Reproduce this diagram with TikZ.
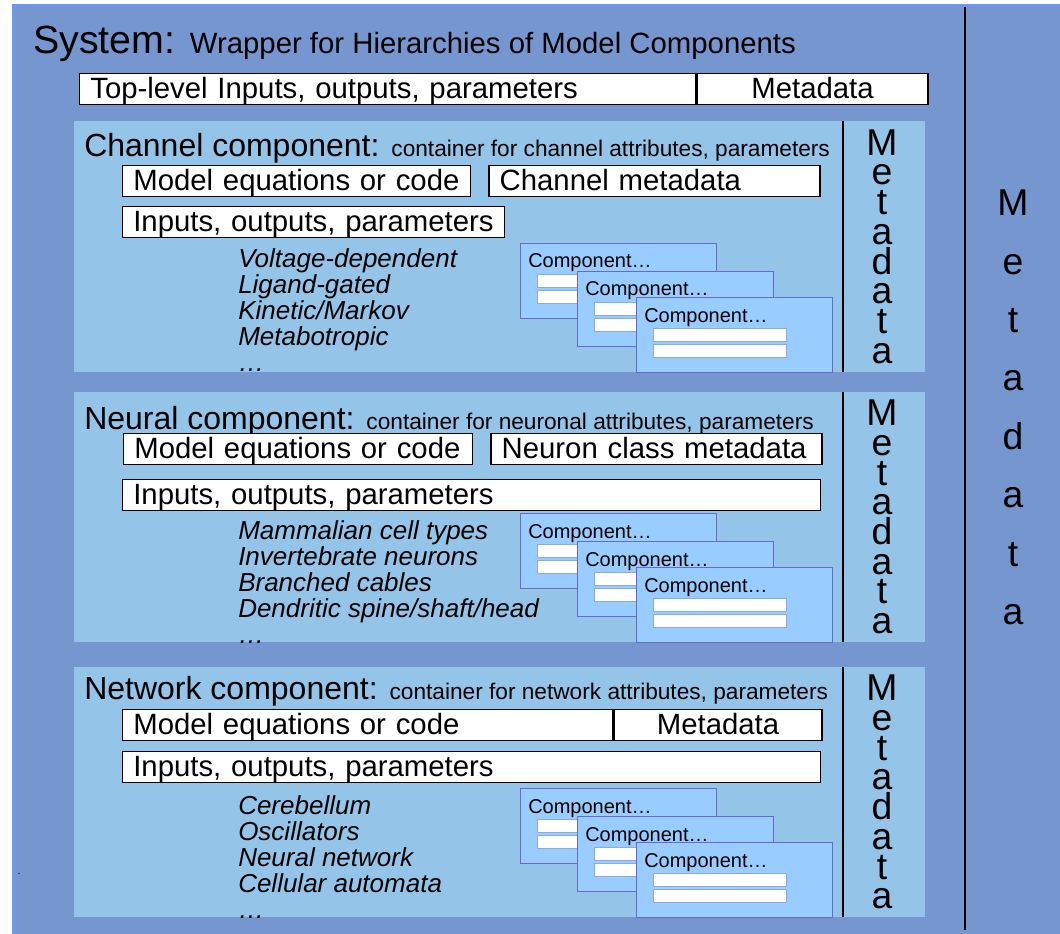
\documentclass[tikz,border=0pt]{standalone}
\usepackage{fontspec}
\setmainfont{Liberation Sans}
\definecolor{sysblue}{RGB}{117,150,206}
\definecolor{sysedge}{RGB}{102,153,255}
\definecolor{panelblue}{RGB}{148,196,232}
\definecolor{cardblue}{RGB}{153,204,255}
\definecolor{cardedge}{RGB}{104,104,210}
\definecolor{baredge}{RGB}{140,170,225}
\usetikzlibrary{positioning}
\newcommand{\smalltxt}{\fontsize{17}{20}\selectfont}

\begin{document}
\begin{tikzpicture}[x=0.75pt, y=-0.75pt,
      panel/.style={fill=panelblue, anchor=north west, inner sep=0pt,
                    minimum width=638.25pt, minimum height=187.5pt},
      fbox/.style={draw=black, line width=1pt, fill=white, anchor=north west,
                   inner xsep=8pt, inner ysep=0pt, minimum height=23.25pt,
                   text height=16pt, text depth=2pt,
                   align=left, font=\fontsize{22}{24}\selectfont},
      card/.style={draw=cardedge, line width=1pt, fill=cardblue, anchor=north west,
                   inner sep=0pt, minimum width=147pt, minimum height=56.25pt},
      cbar/.style={draw=baredge, line width=0.8pt, fill=white, anchor=north west,
                   inner sep=0pt, minimum width=99.75pt, minimum height=9.75pt},
      ctxt/.style={anchor=base west, inner sep=0pt, font=\fontsize{15}{18}\selectfont},
      head/.style={anchor=base west, inner sep=0pt, font=\fontsize{24}{28}\selectfont},
      kinds/.style={anchor=north west, inner sep=0pt, align=left,
                    font=\fontsize{19.5}{19.5}\selectfont\itshape},
      vmeta/.style={align=center, inner sep=0pt, font=\fontsize{28}{22.3}\selectfont},
      rule/.style={line width=1.2pt}
    ]
    \useasboundingbox (0,0) rectangle (1060,934);
    % System wrapper
    \filldraw[fill=sysblue, draw=sysedge, line width=1.5pt] (13,5) rectangle (1075,950);
    \draw[rule] (965,7) -- (965,930);
    \node[anchor=base west, inner sep=0pt, font=\fontsize{29.5}{32}\selectfont] (title) at (33,54)
      {System: {\fontsize{22}{26}\selectfont Wrapper for Hierarchies of Model Components}};
    \node[fbox, text width=446pt] (toplvl) at (79,73) {Top-level Inputs, outputs, parameters};
    \node[fbox, text width=157.25pt, align=center, right=0pt of toplvl] (topmeta) {Metadata};
    \node[vmeta, font=\fontsize{28}{43.8}\selectfont] (sysmd) at (1013,407.5) {M\\e\\t\\a\\d\\a\\t\\a};
    \node[inner sep=0pt, font=\fontsize{8}{8}\selectfont] (dot) at (19,874) {.};

    % Channel component
    \node[panel, minimum height=188.25pt] (chan) at (74,121) {};
    \draw[rule] (843,121) -- (843,372);
    \node[head] (chanhd) at (84,157) {Channel component: {\smalltxt container for channel attributes, parameters}};
    \node[fbox, text width=245pt] (chmodel) at (122,165) {Model equations or code};
    \node[fbox, text width=232.25pt, right=12.75pt of chmodel] (chmeta) {Channel metadata};
    \node[fbox, text width=270.5pt] (chio) at (122,206) {Inputs, outputs, parameters};
    \node[kinds] (chkinds) at (238,248) {Voltage-dependent\\Ligand-gated\\Kinetic/Markov\\Metabotropic\\…};
    \node[vmeta] (chmd) at (882,246.5) {M\\e\\t\\a\\d\\a\\t\\a};

    % Neural component
    \node[panel] (neur) at (74,392) {};
    \draw[rule] (843,392) -- (843,642);
    \node[head] (neurhd) at (84,429) {Neural component: {\smalltxt container for neuronal attributes, parameters}};
    \node[fbox, text width=245.75pt] (nrmodel) at (123,433) {Model equations or code};
    \node[fbox, text width=232.25pt, right=12.75pt of nrmodel] (nrmeta) {Neuron class metadata};
    \node[fbox, text width=507.5pt] (nrio) at (122,479) {Inputs, outputs, parameters};
    \node[kinds] (nrkinds) at (238,520) {Mammalian cell types\\Invertebrate neurons\\Branched cables\\Dendritic spine/shaft/head\\…};
    \node[vmeta] (nrmd) at (882,517) {M\\e\\t\\a\\d\\a\\t\\a};

    % Network component
    \node[panel] (netw) at (74,667) {};
    \draw[rule] (843,667) -- (843,917);
    \node[head] (netwhd) at (84,699) {Network component: {\smalltxt container for network attributes, parameters}};
    \node[fbox, text width=351.5pt] (nwmodel) at (122,709) {Model equations or code};
    \node[fbox, text width=140pt, align=center, right=0pt of nwmodel] (nwmeta) {Metadata};
    \node[fbox, text width=507.5pt] (nwio) at (122,751) {Inputs, outputs, parameters};
    \node[kinds] (nwkinds) at (238,795) {Cerebellum\\Oscillators\\Neural network\\Cellular automata\\…};
    \node[vmeta] (nwmd) at (882,792) {M\\e\\t\\a\\d\\a\\t\\a};

    % stacked sub-components, bottom card flush with panel bottom
    \foreach \pn/\bot in {ch/372, nr/642, nw/917} {
      \foreach \k/\cx/\cy in {1/520/129, 2/577/101, 3/636/75} {
        \node[card] (\pn card\k) at (\cx,\bot-\cy) {};
        \node[ctxt] (\pn lab\k) at ([xshift=6pt, yshift=-18.75pt]\pn card\k.north west) {Component…};
        \node[cbar] (\pn bar\k a) at ([xshift=12.75pt, yshift=-23.25pt]\pn card\k.north west) {};
        \node[cbar] (\pn bar\k b) at ([xshift=12.75pt, yshift=-35.25pt]\pn card\k.north west) {};
      }
    }
  \end{tikzpicture}
\end{document}
